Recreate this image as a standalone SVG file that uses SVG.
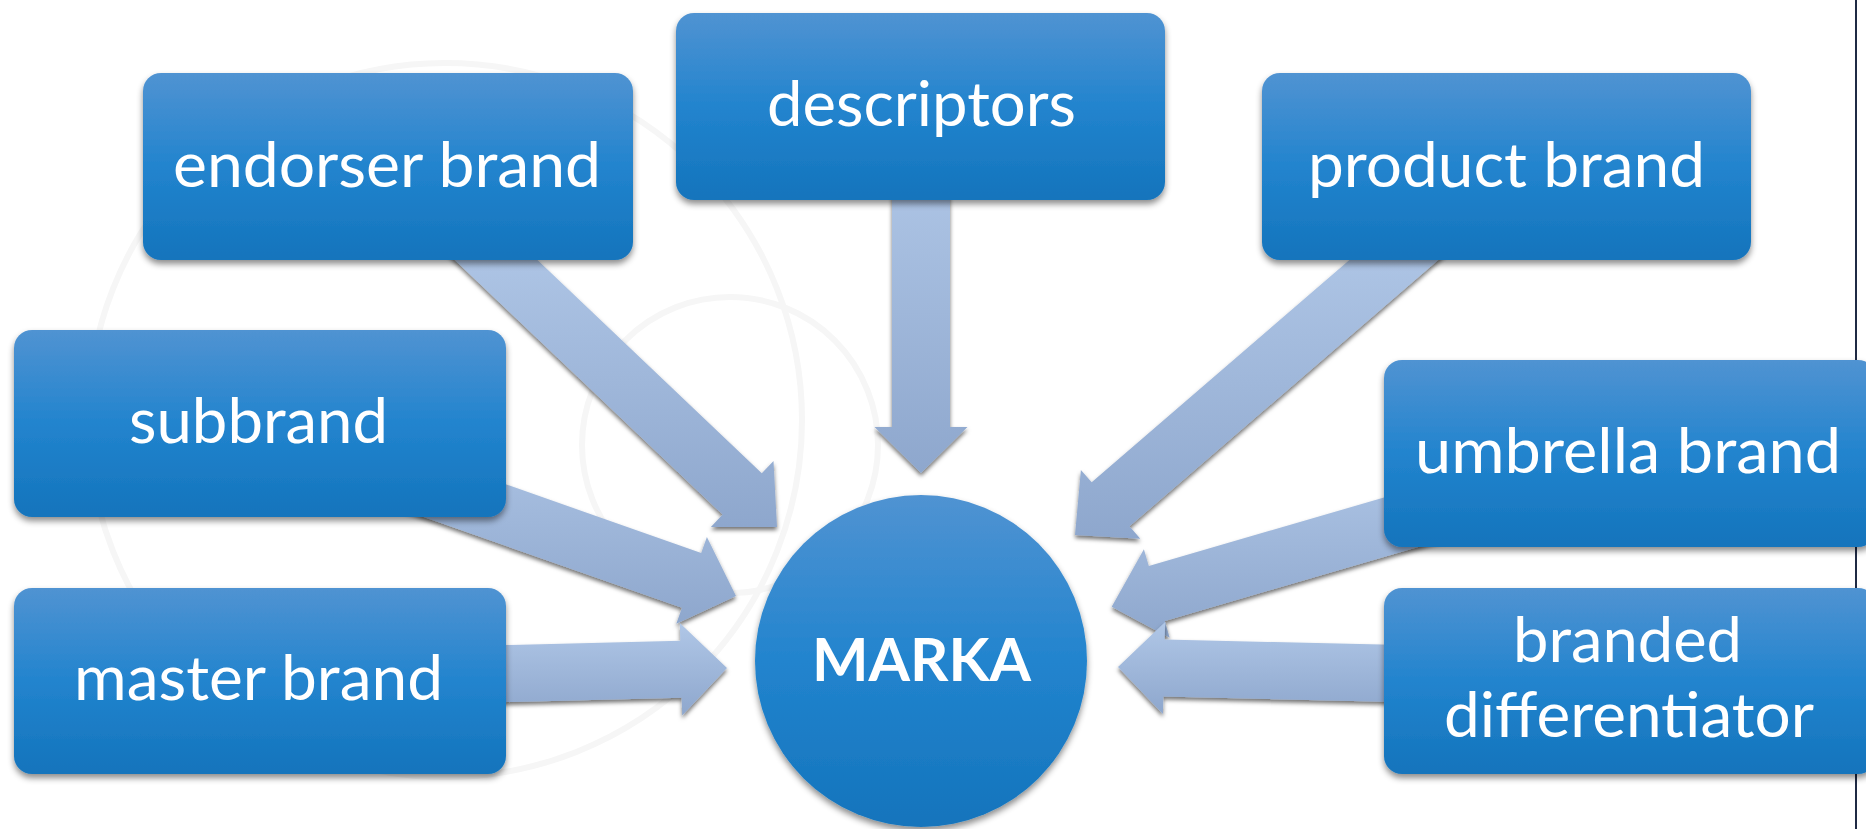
<svg xmlns="http://www.w3.org/2000/svg" width="1866" height="829" viewBox="0 0 1866 829">
  <defs>
    <linearGradient id="boxGrad" x1="0" y1="0" x2="0" y2="1">
      <stop offset="0" stop-color="#5093d2"/>
      <stop offset="0.5" stop-color="#2284ce"/>
      <stop offset="1" stop-color="#1474bc"/>
    </linearGradient>
    <linearGradient id="arrowGrad" x1="0" y1="0" x2="0" y2="1">
      <stop offset="0" stop-color="#b0c7e7"/>
      <stop offset="1" stop-color="#8ea7cd"/>
    </linearGradient>
    <filter id="boxShadow" x="-10%" y="-10%" width="120%" height="130%">
      <feDropShadow dx="0" dy="4" stdDeviation="3" flood-color="#000" flood-opacity="0.45"/>
    </filter>
    <filter id="arrowShadow" x="-10%" y="-10%" width="120%" height="130%">
      <feDropShadow dx="0" dy="3" stdDeviation="2" flood-color="#000" flood-opacity="0.55"/>
    </filter>
  </defs>
  <style>
    .box { fill: url(#boxGrad); filter: url(#boxShadow); }
    .arrow { fill: url(#arrowGrad); filter: url(#arrowShadow); }
    .lbl { font-family: Lato, "Noto Sans", "Liberation Sans", sans-serif; font-size: 62px; fill: #ffffff; text-anchor: middle; }
    .bold { font-weight: bold; font-size: 60px; }
    .wm { fill: none; stroke: #f6f6f6; stroke-width: 6; }
  </style>

  <rect x="0" y="0" width="1866" height="829" fill="#ffffff"/>

  <g id="background">
    <circle class="wm" cx="445" cy="420" r="357"/>
    <circle class="wm" cx="730" cy="445" r="148"/>
    <line x1="1856" y1="0" x2="1856" y2="829" stroke="#1f2a44" stroke-width="2"/>
  </g>

  <g id="connectors">
    <polygon class="arrow" points="423.2,230 505.9,230 761.8,473.2 773.5,460.9 777,527 710.9,526.9 722.6,514.6"/>
    <polygon class="arrow" points="892,150 950,150 950,427 967.5,427 921,473 874.5,427 892,427"/>
    <polygon class="arrow" points="1384.2,230 1473,230 1129.5,526.3 1140.3,538.7 1075,535 1080.9,469.9 1091.7,482.3"/>
    <polygon class="arrow" points="309.6,415.3 701.2,553.0 706.9,537.0 736,596 676.3,623.8 682.0,607.8 290.4,470.1"/>
    <polygon class="arrow" points="299.3,650.2 680.3,640.7 679.8,622.9 727,668 682.2,715.5 681.7,697.7 300.7,707.2"/>
    <polygon class="arrow" points="1552,448.5 1148.8,566.1 1143.9,549.3 1111.7,606.7 1169.7,637.7 1164.8,620.9 1568,503.3"/>
    <polygon class="arrow" points="1560.7,648.7 1164.7,639.6 1165.1,622.1 1118,667 1162.9,714.1 1163.3,696.6 1559.3,705.7"/>
  </g>

  <g id="node-endorser">
    <rect class="box" x="143" y="73" width="490" height="187" rx="18"/>
    <text class="lbl" x="387" y="187" textLength="428" lengthAdjust="spacingAndGlyphs">endorser brand</text>
  </g>
  <g id="node-descriptors">
    <rect class="box" x="676" y="13" width="489" height="187" rx="18"/>
    <text class="lbl" x="921.5" y="126" textLength="309" lengthAdjust="spacingAndGlyphs">descriptors</text>
  </g>
  <g id="node-product">
    <rect class="box" x="1262" y="73" width="489" height="187" rx="18"/>
    <text class="lbl" x="1506.5" y="187" textLength="397" lengthAdjust="spacingAndGlyphs">product brand</text>
  </g>
  <g id="node-subbrand">
    <rect class="box" x="14" y="330" width="492" height="187" rx="18"/>
    <text class="lbl" x="258.5" y="443" textLength="259" lengthAdjust="spacingAndGlyphs">subbrand</text>
  </g>
  <g id="node-master">
    <rect class="box" x="14" y="588" width="492" height="186" rx="18"/>
    <text class="lbl" x="258.5" y="700" textLength="369" lengthAdjust="spacingAndGlyphs">master brand</text>
  </g>
  <g id="node-umbrella">
    <rect class="box" x="1384" y="360" width="492" height="187" rx="18"/>
    <text class="lbl" x="1628" y="473" textLength="426" lengthAdjust="spacingAndGlyphs">umbrella brand</text>
  </g>
  <g id="node-differentiator">
    <rect class="box" x="1384" y="588" width="492" height="186" rx="18"/>
    <text class="lbl" x="1627.5" y="662" textLength="229" lengthAdjust="spacingAndGlyphs">branded</text>
    <text class="lbl" x="1629" y="737" textLength="370" lengthAdjust="spacingAndGlyphs">differentiator</text>
  </g>
  <g id="node-marka">
    <circle class="box" cx="921" cy="661" r="166"/>
    <text class="lbl bold" x="921.5" y="681" textLength="219" lengthAdjust="spacingAndGlyphs">MARKA</text>
  </g>
</svg>
